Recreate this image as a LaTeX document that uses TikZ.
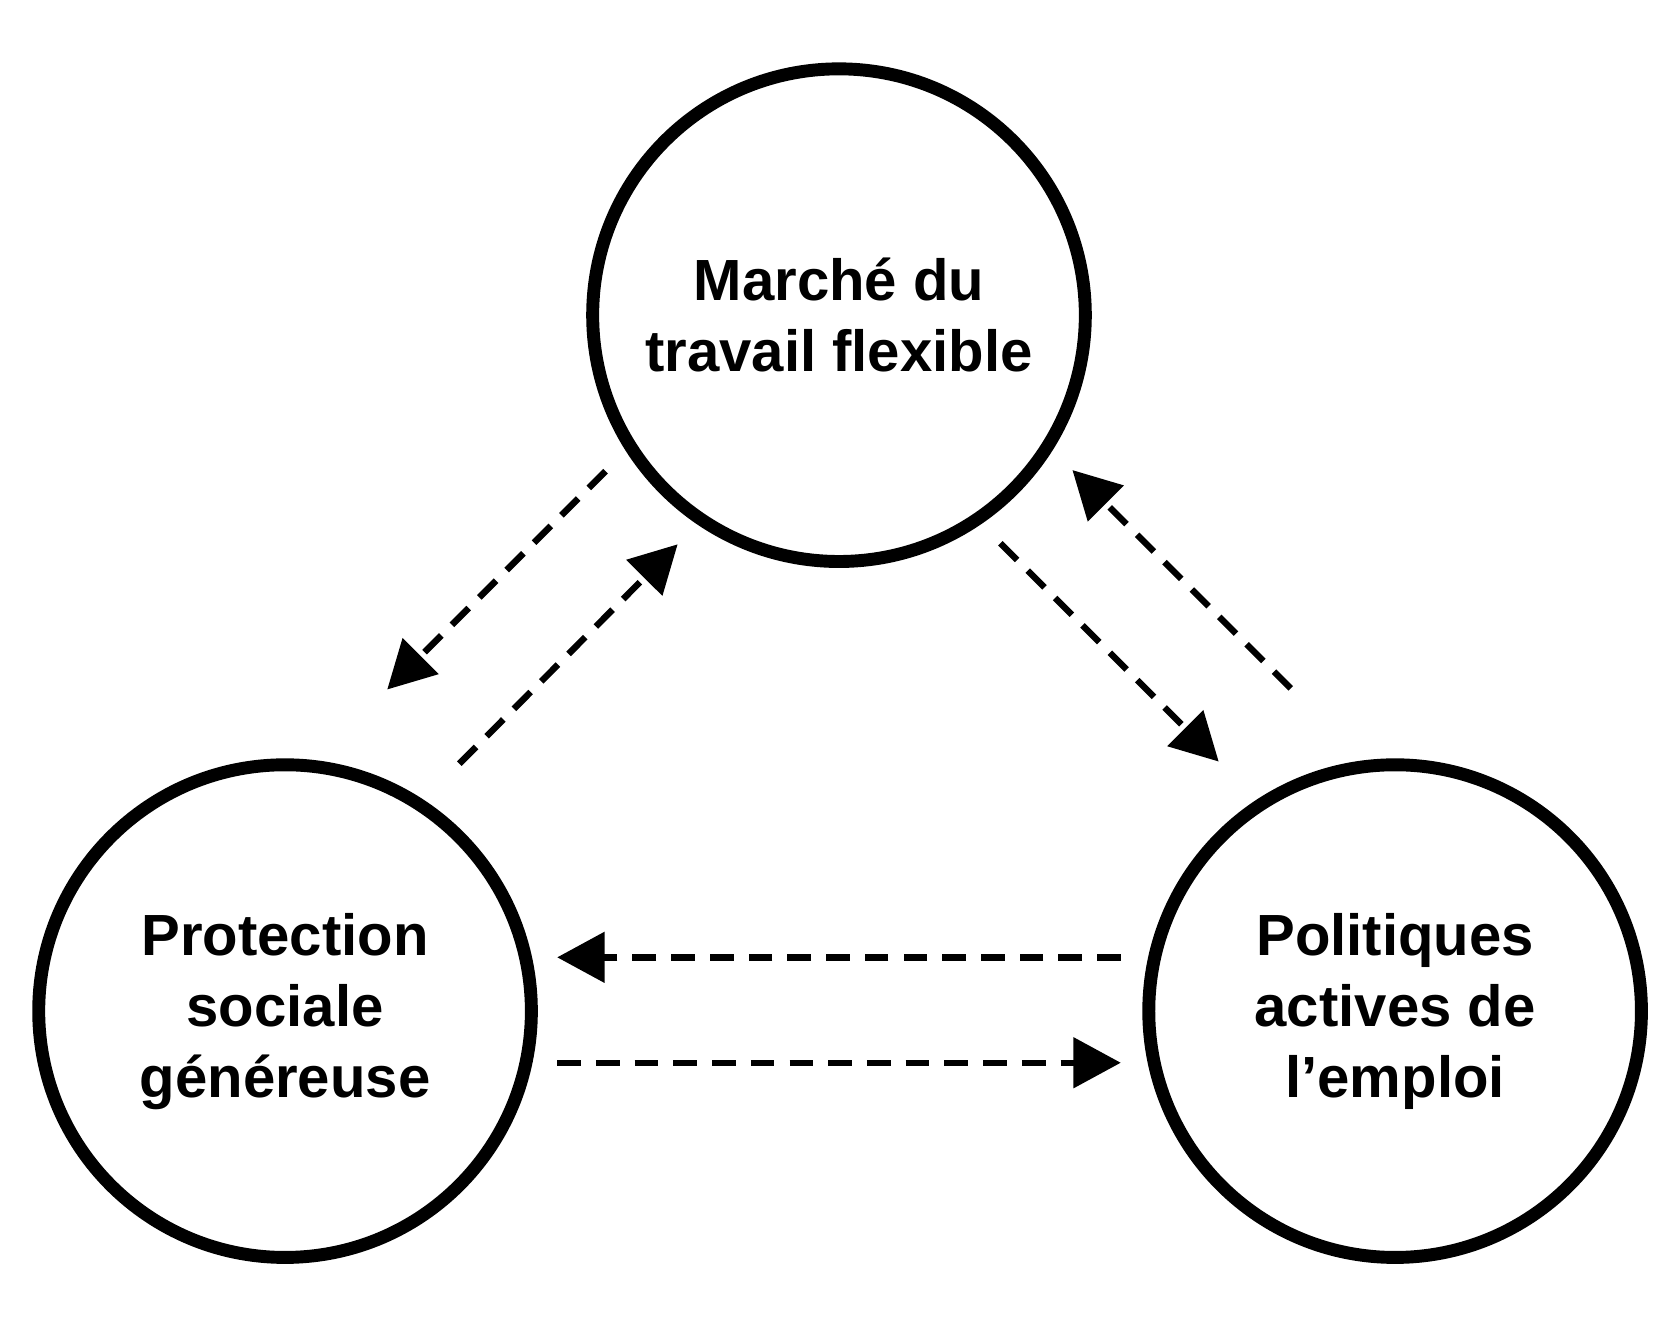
\documentclass[tikz,border=0pt]{standalone}
\usepackage{fontspec}
\setmainfont{Liberation Sans}
\usetikzlibrary{arrows.meta}

\tikzset{
  pole/.style={circle, draw, line width=6pt, minimum size=229pt, align=center,
    font=\fontsize{27}{33}\selectfont\bfseries},
  link/.style={line width=3pt, dash pattern=on 11pt off 7pt,
    -{Triangle[length=22pt, width=23pt]}}
}

\begin{document}
\begin{tikzpicture}[x=0.5pt, y=-0.5pt]
  \useasboundingbox (0,0) rectangle (1560,1244);
  \node[pole] (marche) at (780,293) {Marché du\\travail flexible};
  \node[pole] (protection) at (265,940) {Protection\\sociale\\généreuse};
  \node[pole] (politiques) at (1297,940) {Politiques\\actives de\\l’emploi};

  \coordinate (a1) at (563,438); \coordinate (a2) at (360,641);
  \coordinate (b1) at (427,710); \coordinate (b2) at (630,506);
  \coordinate (c1) at (930,505); \coordinate (c2) at (1133,708);
  \coordinate (d1) at (1200,640); \coordinate (d2) at (997,437);
  \coordinate (e1) at (1042,890); \coordinate (e2) at (518,890);
  \coordinate (f1) at (518,988); \coordinate (f2) at (1042,988);

  \draw[link] (a1) -- (a2);
  \draw[link] (b1) -- (b2);
  \draw[link] (c1) -- (c2);
  \draw[link] (d1) -- (d2);
  \draw[link] (e1) -- (e2);
  \draw[link] (f1) -- (f2);
\end{tikzpicture}
\end{document}
